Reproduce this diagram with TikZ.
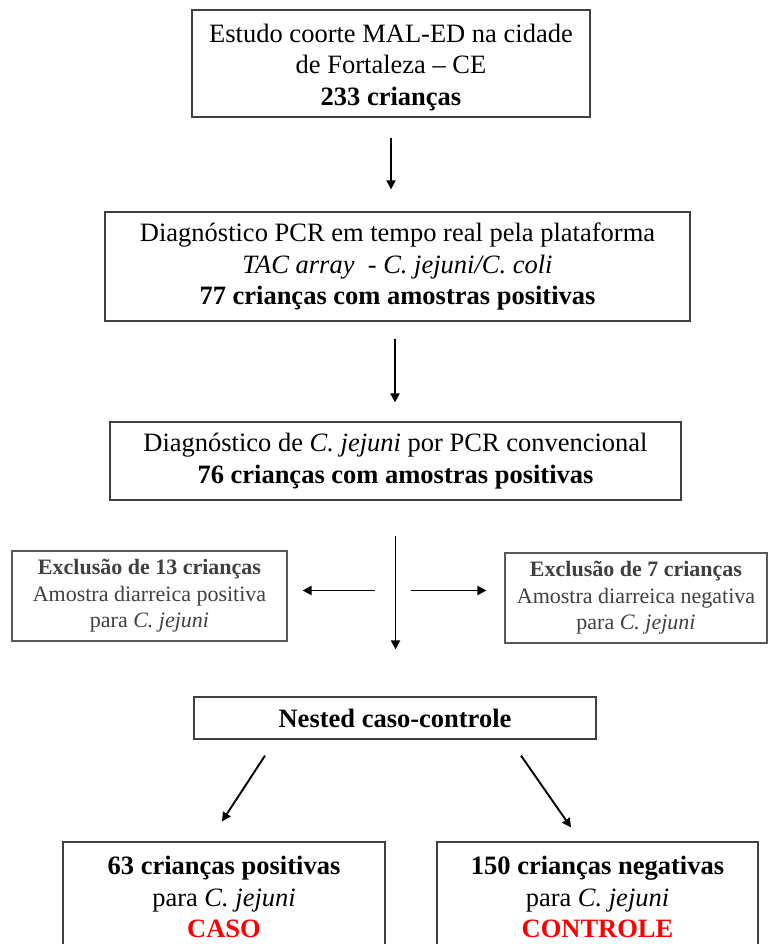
\documentclass[tikz,border=0pt]{standalone}
\usepackage{fontspec}
\setmainfont{Liberation Serif}
\usetikzlibrary{arrows.meta, positioning, calc}
\definecolor{exclgray}{RGB}{64,64,64}
\definecolor{casored}{RGB}{255,0,0}

\begin{document}
\begin{tikzpicture}[x=1pt, y=-1pt,
    box/.style={draw=black!75, line width=1.2pt, align=center, inner sep=0pt,
        font=\fontsize{26.5}{31.5}\selectfont},
    exclbox/.style={draw=black!65, line width=1.2pt, align=center, inner sep=0pt,
        text=exclgray, font=\fontsize{22}{26.5}\selectfont},
    arr/.style={line width=1.9pt, -{Triangle[length=9pt, width=9pt]}}]
    % Page
    \path[clip] (0, 0) rectangle (768, 944);

    % Main column
    \node[box, minimum width=398pt, minimum height=107pt] (coorte) at (391, 63.5)
        {\\[-6pt]Estudo coorte MAL-ED na cidade\\de Fortaleza -- CE\\\textbf{233 crianças}};
    \node[box, minimum width=585pt, minimum height=109pt] (tac) at (397.5, 266.5)
        {Diagnóstico PCR em tempo real pela plataforma\\\textit{TAC array}\ \ - \textit{C. jejuni/C. coli}\\\textbf{77 crianças com amostras positivas}};
    \node[box, minimum width=571pt, minimum height=78pt] (pcr) at (395.5, 461)
        {Diagnóstico de \textit{C. jejuni} por PCR convencional\\\textbf{76 crianças com amostras positivas}};

    % Exclusions
    \node[exclbox, minimum width=275pt, minimum height=90pt] (exclpos) at (149.5, 596)
        {\textbf{Exclusão de 13 crianças}\\Amostra diarreica positiva\\para \textit{C. jejuni}};
    \node[exclbox, minimum width=262pt, minimum height=90pt] (exclneg) at (636, 598)
        {\textbf{Exclusão de 7 crianças}\\Amostra diarreica negativa\\para \textit{C. jejuni}};

    % Case-control
    \node[box, minimum width=402pt, minimum height=42pt] (nested) at (395, 718)
        {\textbf{Nested caso-controle}};
    \node[box, minimum width=322pt, minimum height=110pt] (caso) at (224, 897)
        {\textbf{63 crianças positivas}\\para \textit{C. jejuni}\\\textcolor{casored}{\textbf{CASO}}};
    \node[box, minimum width=321pt, minimum height=110pt] (controle) at (597.5, 897)
        {\textbf{150 crianças negativas}\\para \textit{C. jejuni}\\\textcolor{casored}{\textbf{CONTROLE}}};

    % Arrows
    \draw[arr, shorten <=20pt, shorten >=22pt] (coorte.south) -- (coorte.south |- tac.north);
    \draw[arr, shorten <=17pt, shorten >=19pt] ([xshift=-2.5pt]tac.south) -- ([xshift=-2.5pt]tac.south |- pcr.north);
    \draw[arr, shorten <=35pt, shorten >=47pt] (pcr.south) -- (pcr.south |- nested.north);
    \coordinate (split) at (393, 590.5);
    \draw[arr, shorten <=18pt, shorten >=15pt] (split) -- (split -| exclpos.east);
    \draw[arr, shorten <=18pt, shorten >=18pt] (split) -- (split -| exclneg.west);
    \draw[arr] ([xshift=-130pt, yshift=-16pt]nested.south) -- ([xshift=-2pt, yshift=20pt]caso.north);
    \draw[arr] ([xshift=126pt, yshift=-16pt]nested.south) -- ([xshift=-26.5pt, yshift=14pt]controle.north);

\end{tikzpicture}
\end{document}
